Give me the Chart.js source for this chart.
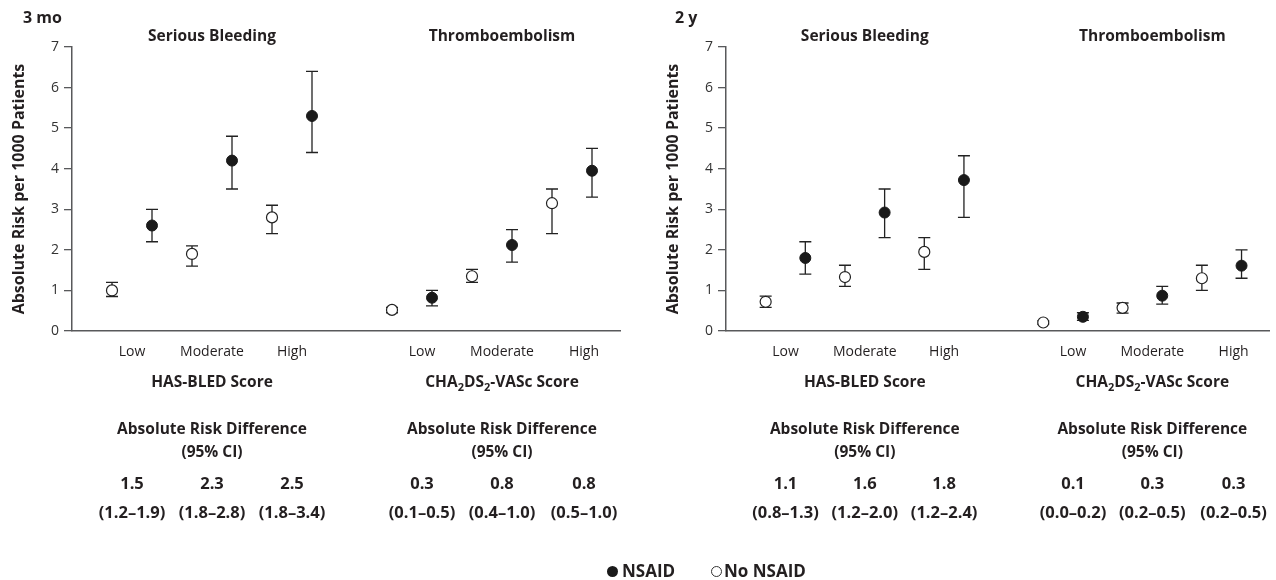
<!DOCTYPE html>
<html>
<head>
<meta charset="utf-8">
<script src="https://cdn.jsdelivr.net/npm/chart.js@4.4.1/dist/chart.umd.min.js"></script>
<style>
  html, body { margin:0; padding:0; background:#fff; }
  #wrap { position:relative; width:1276px; height:580px; overflow:hidden; }
  canvas { position:absolute; top:0; }
  #c1 { left:0; }
  #c2 { left:638px; }
  .leg { position:absolute; top:561px; font:bold 17px "Open Sans", sans-serif; color:#231f20; line-height:20px; }
  .dot { position:absolute; width:11px; height:11px; border-radius:50%; box-sizing:border-box; }
</style>
</head>
<body>
<div id="wrap">
  <canvas id="c1" width="638" height="580"></canvas>
  <canvas id="c2" width="638" height="580"></canvas>
  <div class="dot" style="left:607px;top:566px;background:#1a1a1a;"></div>
  <div class="leg" style="left:622px;">NSAID</div>
  <div class="dot" style="left:711px;top:566px;border:1.2px solid #333;background:#fff;"></div>
  <div class="leg" style="left:724px;">No NSAID</div>
</div>
<script>
// ---- data ----
const categories = ['Low', 'Moderate', 'High'];
const xNoNSAID = [1, 3, 5, 8, 10, 12];
const xNSAID = [2, 4, 6, 9, 11, 13];
const labelPosBleed = [1.5, 3.5, 5.5];
const labelPosThromb = [8.75, 10.75, 12.8];

// 3 months: [bleeding Low, Mod, High, thrombo Low, Mod, High]
const mo3NSAID   = [2.6, 4.2, 5.3, 0.82, 2.12, 3.95];
const mo3NSAIDLo = [2.2, 3.5, 4.4, 0.62, 1.7, 3.3];
const mo3NSAIDHi = [3.0, 4.8, 6.4, 1.0, 2.5, 4.5];
const mo3No      = [1.0, 1.9, 2.8, 0.52, 1.35, 3.15];
const mo3NoLo    = [0.85, 1.6, 2.4, 0.45, 1.2, 2.4];
const mo3NoHi    = [1.2, 2.1, 3.1, 0.58, 1.52, 3.5];

// 2 years
const y2NSAID   = [1.8, 2.92, 3.72, 0.35, 0.87, 1.61];
const y2NSAIDLo = [1.4, 2.3, 2.8, 0.26, 0.66, 1.3];
const y2NSAIDHi = [2.2, 3.5, 4.32, 0.45, 1.1, 2.0];
const y2No      = [0.72, 1.33, 1.95, 0.21, 0.57, 1.3];
const y2NoLo    = [0.58, 1.1, 1.52, 0.17, 0.44, 1.0];
const y2NoHi    = [0.86, 1.62, 2.3, 0.25, 0.69, 1.62];

// absolute risk differences
const mo3BleedARD = ['1.5', '2.3', '2.5'];
const mo3BleedCI = ['(1.2–1.9)', '(1.8–2.8)', '(1.8–3.4)'];
const mo3ThrombARD = ['0.3', '0.8', '0.8'];
const mo3ThrombCI = ['(0.1–0.5)', '(0.4–1.0)', '(0.5–1.0)'];
const y2BleedARD = ['1.1', '1.6', '1.8'];
const y2BleedCI = ['(0.8–1.3)', '(1.2–2.0)', '(1.2–2.4)'];
const y2ThrombARD = ['0.1', '0.3', '0.3'];
const y2ThrombCI = ['(0.0–0.2)', '(0.2–0.5)', '(0.2–0.5)'];

const yTicks = [0, 1, 2, 3, 4, 5, 6, 7];

const FONT = '"Open Sans", sans-serif';
const TXT = '#231f20';
const BOLD = 'bold 15.5px ' + FONT;
const NUM = 'bold 16.5px ' + FONT;

function pts(xs, ys, lo, hi) {
  return xs.map((x, i) => ({ x: x, y: ys[i], lo: lo[i], hi: hi[i] }));
}

const errorBars = {
  id: 'errorBars',
  beforeDatasetsDraw(chart) {
    const ctx = chart.ctx, ys = chart.scales.y, xs = chart.scales.x;
    ctx.save();
    ctx.strokeStyle = '#222';
    ctx.lineWidth = 1.3;
    chart.data.datasets.forEach(ds => {
      ds.data.forEach(p => {
        const px = xs.getPixelForValue(p.x);
        const y1 = ys.getPixelForValue(p.lo), y2 = ys.getPixelForValue(p.hi);
        ctx.beginPath();
        ctx.moveTo(px, y1); ctx.lineTo(px, y2);
        ctx.moveTo(px - 6, y1); ctx.lineTo(px + 6, y1);
        ctx.moveTo(px - 6, y2); ctx.lineTo(px + 6, y2);
        ctx.stroke();
      });
    });
    ctx.restore();
  }
};

function drawCentered(ctx, text, x, y, font) {
  ctx.font = font;
  ctx.textAlign = 'center';
  ctx.fillText(text, x, y);
}

function drawCha(ctx, cx, y) {
  const parts = [['CHA', false], ['2', true], ['DS', false], ['2', true], ['-VASc Score', false]];
  const big = BOLD, small = 'bold 11px ' + FONT;
  let w = 0;
  parts.forEach(p => { ctx.font = p[1] ? small : big; w += ctx.measureText(p[0]).width; });
  let x = cx - w / 2;
  ctx.textAlign = 'left';
  parts.forEach(p => {
    ctx.font = p[1] ? small : big;
    ctx.fillText(p[0], x, p[1] ? y + 5 : y);
    x += ctx.measureText(p[0]).width;
  });
}

const panelText = {
  id: 'panelText',
  afterDraw(chart, args, o) {
    const ctx = chart.ctx, xs = chart.scales.x;
    ctx.save();
    ctx.fillStyle = TXT;
    ctx.textBaseline = 'middle';
    ctx.font = 'bold 16px ' + FONT;
    ctx.textAlign = 'left';
    ctx.fillText(o.period, o.periodX, 18);
    const groups = [
      { title: 'Serious Bleeding', pos: labelPosBleed, score: 'HAS-BLED Score', ard: o.bleedARD, ci: o.bleedCI },
      { title: 'Thromboembolism', pos: labelPosThromb, score: null, ard: o.thrombARD, ci: o.thrombCI }
    ];
    groups.forEach(g => {
      const cx = xs.getPixelForValue(g.pos[1]);
      drawCentered(ctx, g.title, cx, 37, BOLD);
      g.pos.forEach((v, i) => {
        const px = xs.getPixelForValue(v);
        drawCentered(ctx, categories[i], px, 352, '14px ' + FONT);
        drawCentered(ctx, g.ard[i], px, 484, NUM);
        drawCentered(ctx, g.ci[i], px, 513, NUM);
      });
      if (g.score) drawCentered(ctx, g.score, cx, 383, BOLD);
      else drawCha(ctx, cx, 383);
      drawCentered(ctx, 'Absolute Risk Difference', cx, 430, BOLD);
      drawCentered(ctx, '(95% CI)', cx, 453, BOLD);
    });
    ctx.restore();
  }
};

function makeChart(id, nsaid, nsaidLo, nsaidHi, no, noLo, noHi, text, padLeft, padRight) {
  return new Chart(document.getElementById(id), {
    type: 'scatter',
    data: {
      datasets: [
        { label: 'No NSAID', data: pts(xNoNSAID, no, noLo, noHi), pointRadius: 5.5,
          pointBackgroundColor: '#fff', pointBorderColor: '#222', pointBorderWidth: 1.2, showLine: false },
        { label: 'NSAID', data: pts(xNSAID, nsaid, nsaidLo, nsaidHi), pointRadius: 5.5,
          pointBackgroundColor: '#1a1a1a', pointBorderColor: '#1a1a1a', pointBorderWidth: 1, showLine: false }
      ]
    },
    options: {
      responsive: false,
      animation: false,
      events: [],
      layout: { padding: { top: 47, bottom: 241, left: padLeft, right: padRight } },
      plugins: { legend: { display: false }, tooltip: { enabled: false }, panelText: text },
      scales: {
        x: {
          type: 'linear', min: 0, max: 13.7,
          ticks: { display: false },
          grid: { display: false },
          border: { display: true, color: '#58595b', width: 1.5 }
        },
        y: {
          min: 0, max: 7,
          afterFit: s => { s.width = 65; },
          afterBuildTicks: s => { s.ticks = yTicks.map(v => ({ value: v })); },
          ticks: { color: '#333', font: { family: FONT, size: 14 }, padding: 5 },
          grid: { drawOnChartArea: false, drawTicks: true, tickLength: 8, color: '#58595b', lineWidth: 1.3 },
          border: { display: true, color: '#58595b', width: 1.5 },
          title: { display: true, text: 'Absolute Risk per 1000 Patients', color: TXT,
                   font: { family: FONT, size: 16, weight: 'bold' }, padding: { top: 3, bottom: 3 } }
        }
      }
    },
    plugins: [errorBars, panelText]
  });
}

makeChart('c1', mo3NSAID, mo3NSAIDLo, mo3NSAIDHi, mo3No, mo3NoLo, mo3NoHi,
  { period: '3 mo', periodX: 23, bleedARD: mo3BleedARD, bleedCI: mo3BleedCI, thrombARD: mo3ThrombARD, thrombCI: mo3ThrombCI }, 7, 18);
makeChart('c2', y2NSAID, y2NSAIDLo, y2NSAIDHi, y2No, y2NoLo, y2NoHi,
  { period: '2 y', periodX: 37, bleedARD: y2BleedARD, bleedCI: y2BleedCI, thrombARD: y2ThrombARD, thrombCI: y2ThrombCI }, 23, 4);
</script>
</body>
</html>
